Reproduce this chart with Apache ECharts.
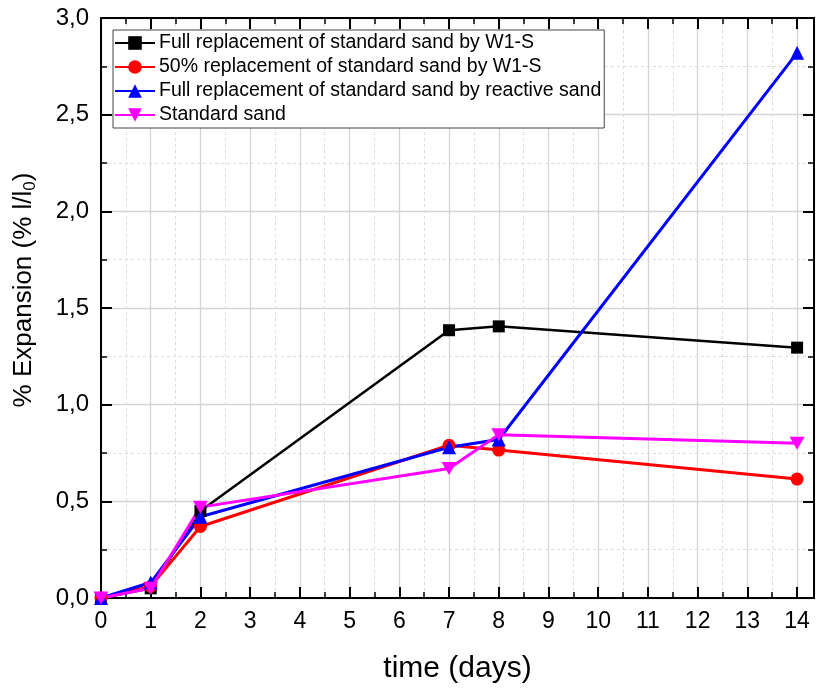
<!DOCTYPE html>
<html>
<head>
<meta charset="utf-8">
<script src="https://cdn.jsdelivr.net/npm/echarts@6/dist/echarts.min.js"></script>
<style>
  html, body { margin: 0; padding: 0; background: #fff; }
  #chart { width: 817px; height: 689px; }
</style>
</head>
<body>
<div id="chart"></div>
<script>
// Expansion measurements (%) against curing time (days)
const days = [0, 1, 2, 7, 8, 14];
const fullW1S = [0, 0.05, 0.45, 1.385, 1.405, 1.295];
const halfW1S = [0, 0.06, 0.37, 0.79, 0.765, 0.615];
const fullReactive = [0, 0.08, 0.42, 0.78, 0.82, 2.82];
const standardSand = [0, 0.05, 0.47, 0.67, 0.845, 0.80];

const seriesNames = [
  'Full replacement of standard sand by W1-S',
  '50% replacement of standard sand by W1-S',
  'Full replacement of standard sand by reactive sand',
  'Standard sand'
];

const FONT = '"Liberation Sans", Arial, sans-serif';
const pairs = (ys) => days.map((d, i) => [d, ys[i]]);
const downTriangle = 'path://M0,0 L10,0 L5,8.66 Z';

const commaFmt = (v) => v.toFixed(1).replace('.', ',');

const gridLine = { show: true, lineStyle: { color: '#d4d4d4', width: 1.3 } };
const minorLine = { show: true, lineStyle: { color: '#dcdcdc', width: 1, type: [3, 3] } };
const axisLine = { show: true, onZero: false, lineStyle: { color: '#000', width: 2 } };
const majorTick = { show: true, inside: true, length: 11, lineStyle: { color: '#000', width: 2 } };
const minorTick = { show: true, splitNumber: 2, length: 6, lineStyle: { color: '#000', width: 1.5 } };

const xMax = 14.34;

const chart = echarts.init(document.getElementById('chart'));
chart.setOption({
  backgroundColor: '#fff',
  animation: false,
  textStyle: { fontFamily: FONT },
  grid: { left: 101, right: 3, top: 18, bottom: 91, containLabel: false },
  legend: {
    orient: 'vertical',
    left: 113,
    top: 30,
    data: seriesNames,
    backgroundColor: '#fff',
    borderColor: '#444',
    borderWidth: 1,
    borderRadius: 0,
    padding: [3, 3, 3, 1],
    itemWidth: 40,
    itemHeight: 17,
    itemGap: 4,
    textStyle: { fontFamily: FONT, fontSize: 19.5, lineHeight: 20, color: '#000', padding: [0, 0, 0, -1] }
  },
  xAxis: [{
    type: 'value',
    min: 0, max: xMax, interval: 1,
    position: 'bottom',
    name: 'time (days)',
    nameLocation: 'middle',
    nameGap: 56,
    nameTextStyle: { fontFamily: FONT, fontSize: 30, color: '#000' },
    axisLine: axisLine,
    axisTick: majorTick,
    minorTick: minorTick,
    axisLabel: {
      fontFamily: FONT, fontSize: 23, color: '#000', margin: 12,
      formatter: (v) => (Math.abs(v - Math.round(v)) < 1e-6 ? String(Math.round(v)) : '')
    },
    splitLine: gridLine,
    minorSplitLine: minorLine
  }, {
    type: 'value',
    min: 0, max: xMax, interval: 1,
    position: 'top',
    axisLine: axisLine,
    axisTick: majorTick,
    minorTick: minorTick,
    axisLabel: { show: false },
    splitLine: { show: false }
  }],
  yAxis: [{
    type: 'value',
    min: 0, max: 3, interval: 0.5,
    position: 'left',
    name: '% Expansion (% l/l{sub|0})',
    nameLocation: 'middle',
    nameRotate: 90,
    nameGap: 62,
    nameTextStyle: {
      fontFamily: FONT, fontSize: 26, color: '#000',
      padding: [0, 0, 0, 36],
      rich: { sub: { fontFamily: FONT, fontSize: 17, color: '#000', padding: [14, 0, 0, 0] } }
    },
    axisLine: axisLine,
    axisTick: majorTick,
    minorTick: minorTick,
    axisLabel: { fontFamily: FONT, fontSize: 24, color: '#000', margin: 12, formatter: commaFmt },
    splitLine: gridLine,
    minorSplitLine: minorLine
  }, {
    type: 'value',
    min: 0, max: 3, interval: 0.5,
    position: 'right',
    axisLine: axisLine,
    axisTick: majorTick,
    minorTick: minorTick,
    axisLabel: { show: false },
    splitLine: { show: false }
  }],
  series: [
    {
      name: seriesNames[0], type: 'line', data: pairs(fullW1S),
      symbol: 'rect', symbolSize: 12,
      lineStyle: { color: '#000', width: 2.5 }, itemStyle: { color: '#000' }
    },
    {
      name: seriesNames[1], type: 'line', data: pairs(halfW1S),
      symbol: 'circle', symbolSize: 13,
      lineStyle: { color: '#ff0000', width: 3 }, itemStyle: { color: '#ff0000' }
    },
    {
      name: seriesNames[2], type: 'line', data: pairs(fullReactive),
      symbol: 'triangle', symbolSize: 14,
      lineStyle: { color: '#0000ff', width: 3 }, itemStyle: { color: '#0000ff' }
    },
    {
      name: seriesNames[3], type: 'line', data: pairs(standardSand),
      symbol: downTriangle, symbolSize: [15, 13],
      lineStyle: { color: '#ff00ff', width: 3 }, itemStyle: { color: '#ff00ff' }
    }
  ]
});
</script>
</body>
</html>
